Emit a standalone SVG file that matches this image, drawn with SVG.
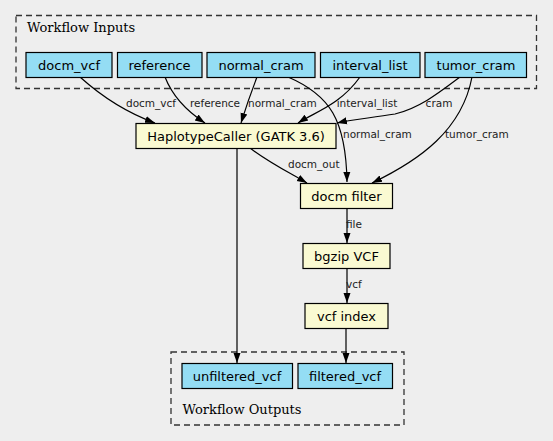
<svg xmlns="http://www.w3.org/2000/svg" width="553" height="441" viewBox="0 0 553 441">
<defs>
<marker id="ah" viewBox="0 0 10 10" refX="10" refY="5" markerWidth="10" markerHeight="10" markerUnits="userSpaceOnUse" orient="auto">
<path d="M0,1.5 L10,5 L0,8.5 Z" fill="#000"/>
</marker>
<style>
.cl{fill:none;stroke:#333;stroke-width:1.3;stroke-dasharray:6,4}
.ct{font-family:"DejaVu Serif",serif;font-size:13px;fill:#000}
.io rect{fill:#94ddf4;stroke:#000;stroke-width:1.2}
.st rect{fill:#fafad2;stroke:#000;stroke-width:1.2}
.nt{font-family:"DejaVu Sans",sans-serif;font-size:13px;text-anchor:middle;fill:#000}
.e path{fill:none;stroke:#000;stroke-width:1.2;marker-end:url(#ah)}
.el{font-family:"DejaVu Sans",sans-serif;font-size:10.5px;fill:#222}
</style>
</defs>
<rect width="553" height="441" fill="#eeeeee"/>
<g id="cluster_inputs">
<rect class="cl" x="16" y="15.5" width="520.5" height="73"/>
<text class="ct" x="27" y="32.3">Workflow Inputs</text>
</g>
<g id="cluster_outputs">
<rect class="cl" x="171" y="352" width="233" height="73"/>
<text class="ct" x="182.5" y="414.3">Workflow Outputs</text>
</g>
<g id="connectors" class="e">
<path d="M80,77 C100,95 125,112 155,123"/>
<path d="M165,77 C172,95 185,110 205,123"/>
<path d="M257,77 C252,90 246,107 241,123"/>
<path d="M288,77 C330,95 346,120 347,182"/>
<path d="M360,77 C340,105 315,112 298,123"/>
<path d="M460,77 C440,92 420,108 395,114 C370,118 350,120 337,123"/>
<path d="M472,77 C462,130 420,160 372,183"/>
<path d="M250,148 C268,162 290,173 307,183"/>
<path d="M237,148 L237,363"/>
<path d="M347,208 L347,243"/>
<path d="M347,269 L347,303"/>
<path d="M346,328 L346,363"/>
<text class="el" x="151" y="107" text-anchor="middle">docm_vcf</text>
<text class="el" x="215" y="107" text-anchor="middle">reference</text>
<text class="el" x="248" y="107">normal_cram</text>
<text class="el" x="367" y="107" text-anchor="middle">interval_list</text>
<text class="el" x="439" y="107" text-anchor="middle">cram</text>
<text class="el" x="343" y="138">normal_cram</text>
<text class="el" x="445" y="138">tumor_cram</text>
<text class="el" x="288" y="168">docm_out</text>
<text class="el" x="346" y="228">file</text>
<text class="el" x="346" y="288">vcf</text>
</g>
<g id="docm_vcf" class="io"><rect x="26" y="52.5" width="86" height="25"/><text class="nt" x="69" y="69.5">docm_vcf</text></g>
<g id="reference" class="io"><rect x="117.5" y="52.5" width="84.5" height="25"/><text class="nt" x="159.5" y="69.5">reference</text></g>
<g id="normal_cram" class="io"><rect x="207" y="52.5" width="108" height="25"/><text class="nt" x="261" y="69.5">normal_cram</text></g>
<g id="interval_list" class="io"><rect x="320.5" y="52.5" width="99.5" height="25"/><text class="nt" x="370" y="69.5">interval_list</text></g>
<g id="tumor_cram" class="io"><rect x="425" y="52.5" width="101.5" height="25"/><text class="nt" x="476" y="69.5">tumor_cram</text></g>
<g id="haplotypecaller" class="st"><rect x="136" y="123.5" width="200" height="25"/><text class="nt" x="236" y="140.5">HaplotypeCaller (GATK 3.6)</text></g>
<g id="docm_filter" class="st"><rect x="300.5" y="183.5" width="92" height="25"/><text class="nt" x="346.5" y="200.5">docm filter</text></g>
<g id="bgzip_vcf" class="st"><rect x="303" y="243.5" width="87" height="25"/><text class="nt" x="346.5" y="260.5">bgzip VCF</text></g>
<g id="vcf_index" class="st"><rect x="305" y="303.5" width="83" height="25"/><text class="nt" x="346.5" y="320.5">vcf index</text></g>
<g id="unfiltered_vcf" class="io"><rect x="182" y="363.5" width="110.5" height="25"/><text class="nt" x="237" y="380.5">unfiltered_vcf</text></g>
<g id="filtered_vcf" class="io"><rect x="298" y="363.5" width="94.5" height="25"/><text class="nt" x="345" y="380.5">filtered_vcf</text></g>
</svg>
